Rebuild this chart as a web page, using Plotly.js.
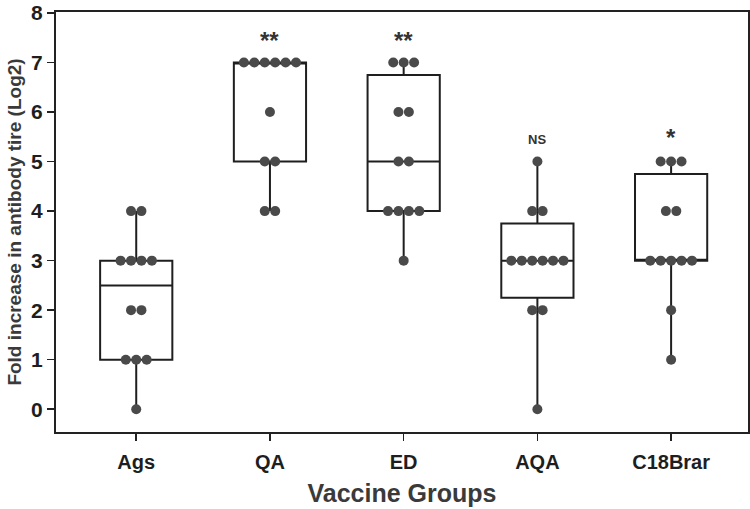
<!DOCTYPE html>
<html>
<head>
<meta charset="utf-8">
<script src="https://cdn.plot.ly/plotly-3.0.1.min.js"></script>
<style>html,body{margin:0;padding:0;background:#fff;}#chart{width:750px;height:509px;}</style>
</head>
<body>
<div id="chart"></div>
<script>
// ---- Data ----
const categories = ["Ags", "QA", "ED", "AQA", "C18Brar"];
const agsValues = [0, 1, 1, 1, 2, 2, 3, 3, 3, 3, 4, 4];
const qaValues = [4, 4, 5, 5, 6, 7, 7, 7, 7, 7, 7];
const edValues = [3, 4, 4, 4, 4, 5, 5, 6, 6, 7, 7, 7];
const aqaValues = [0, 2, 2, 3, 3, 3, 3, 3, 3, 4, 4, 5];
const c18Values = [1, 2, 3, 3, 3, 3, 3, 4, 4, 5, 5, 5];
const significance = ["", "**", "**", "NS", "*"];
const yTickValues = [0, 1, 2, 3, 4, 5, 6, 7, 8];

const groups = [agsValues, qaValues, edValues, aqaValues, c18Values];

// quartiles by (n+1)p rule
function quant(sorted, p) {
  const n = sorted.length;
  let pos = (n + 1) * p;
  if (pos < 1) pos = 1;
  if (pos > n) pos = n;
  const lo = Math.floor(pos), hi = Math.ceil(pos);
  const f = pos - lo;
  return sorted[lo - 1] + f * (sorted[hi - 1] - sorted[lo - 1]);
}

const xs = [], q1 = [], med = [], q3 = [], lf = [], uf = [];
const px = [], py = [];
const dotStep = 0.078;
groups.forEach((vals, gi) => {
  const s = vals.slice().sort((a, b) => a - b);
  const a = quant(s, 0.25), m = quant(s, 0.5), b = quant(s, 0.75);
  const iqr = b - a;
  const lo = Math.min(...s.filter(v => v >= a - 1.5 * iqr));
  const hi = Math.max(...s.filter(v => v <= b + 1.5 * iqr));
  xs.push(gi); q1.push(a); med.push(m); q3.push(b); lf.push(lo); uf.push(hi);
  const counts = {};
  s.forEach(v => counts[v] = (counts[v] || 0) + 1);
  const seen = {};
  s.forEach(v => {
    const k = seen[v] || 0; seen[v] = k + 1;
    px.push(gi + (k - (counts[v] - 1) / 2) * dotStep);
    py.push(v);
  });
});

const boxTrace = {
  type: "box",
  x: xs, q1: q1, median: med, q3: q3, lowerfence: lf, upperfence: uf,
  width: 0.54,
  whiskerwidth: 0,
  fillcolor: "rgba(255,255,255,0)",
  line: { color: "#1f1f1f", width: 2 },
  boxpoints: false,
  hoverinfo: "skip",
  showlegend: false
};

const dotTrace = {
  type: "scatter",
  mode: "markers",
  x: px, y: py,
  marker: { color: "#4a4a4a", size: 10, line: { width: 0 } },
  showlegend: false,
  cliponaxis: false
};

const sigY = [0, 7.45, 7.45, 5.45, 5.48];
const annotations = categories.map((c, i) => ({
  x: i, y: sigY[i], xref: "x", yref: "y",
  text: "<b>" + significance[i] + "</b>", showarrow: false,
  font: { family: "Liberation Sans, Arial, sans-serif", size: significance[i] === "NS" ? 13 : 24, color: "#333" },
  yanchor: "middle"
})).filter((a, i) => significance[i] !== "");

const layout = {
  width: 750, height: 509,
  margin: { l: 56, r: 2, t: 12, b: 77 },
  paper_bgcolor: "#fff",
  plot_bgcolor: "#fff",
  font: { family: "Liberation Sans, Arial, sans-serif", color: "#2b2b2b" },
  xaxis: {
    range: [-0.6, 4.575],
    tickmode: "array",
    tickvals: categories.map((c, i) => i),
    ticktext: categories.map(c => "<b>" + c + "</b>"),
    ticks: "outside", ticklen: 7, tickwidth: 1.5, tickcolor: "#222",
    ticklabelstandoff: 4,
    tickfont: { size: 20, color: "#1e1e1e" },
    showgrid: false, zeroline: false,
    showline: true, mirror: true, linecolor: "#222", linewidth: 2,
    title: { text: "<b>Vaccine Groups</b>", font: { size: 25, color: "#3a3a3a" }, standoff: 12 },
    automargin: false
  },
  yaxis: {
    range: [-0.46, 8.02],
    tickmode: "array",
    tickvals: yTickValues,
    ticktext: yTickValues.map(t => "<b>" + t + "</b>"),
    ticks: "outside", ticklen: 7, tickwidth: 1.5, tickcolor: "#222",
    ticklabeloverflow: "allow",
    tickfont: { size: 21, color: "#1e1e1e" },
    showgrid: false, zeroline: false,
    showline: true, mirror: true, linecolor: "#222", linewidth: 2,
    title: { text: "<b>Fold increase in antibody tire (Log2)</b>", font: { size: 19, color: "#3a3a3a" }, standoff: 4 },
    automargin: false
  },
  annotations: annotations,
  showlegend: false
};

Plotly.newPlot("chart", [boxTrace, dotTrace], layout, { displayModeBar: false, staticPlot: true });
</script>
</body>
</html>
